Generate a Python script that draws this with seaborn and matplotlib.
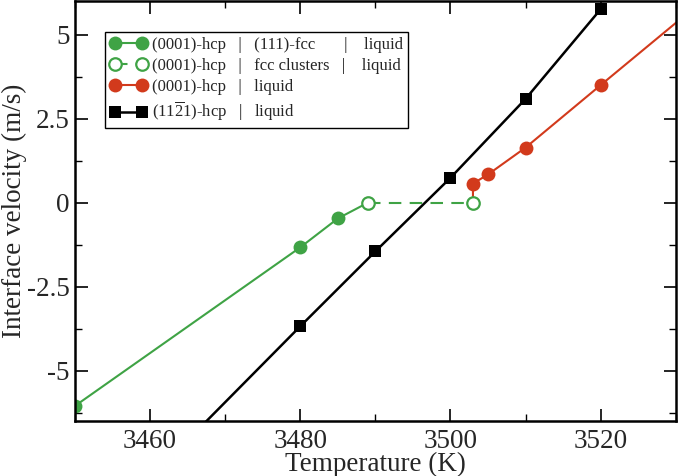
import numpy as np
import pandas as pd
import matplotlib
matplotlib.use("Agg")
import matplotlib.pyplot as plt
import seaborn as sns
from matplotlib.ticker import MultipleLocator

# (0001)-hcp | (111)-fcc | liquid
green_T = [3450, 3480, 3485, 3489]
green_v = [-6.05, -1.33, -0.47, 0.0]
# (0001)-hcp | fcc clusters | liquid
open_T = [3489, 3503]
open_v = [0.0, 0.0]
# (0001)-hcp | liquid
red_T = [3503, 3503, 3505, 3510, 3520, 3540]
red_v = [0.0, 0.57, 0.84, 1.64, 3.5, 7.2]
# (11-21)-hcp | liquid
black_T = [3460, 3480, 3490, 3500, 3510, 3520]
black_v = [-8.2, -3.68, -1.45, 0.74, 3.09, 5.76]

labels = [
    "(0001)-hcp   |   (111)-fcc       |    liquid",
    "(0001)-hcp   |   fcc clusters   |    liquid",
    "(0001)-hcp   |   liquid",
    r"(11$\overline{2}$1)-hcp   |   liquid",
]

GREEN = "#3fa345"
RED = "#d23a1c"

sns.set_theme(style="ticks")
plt.rcParams["font.family"] = ["Liberation Serif", "DejaVu Serif"]
plt.rcParams["mathtext.fontset"] = "custom"
plt.rcParams["mathtext.rm"] = "Liberation Serif"
plt.rcParams["mathtext.it"] = "Liberation Serif"
plt.rcParams["axes.unicode_minus"] = False

fig = plt.figure(figsize=(6.78, 4.76), dpi=100)
ax = fig.add_axes([0.1106, 0.1155, 0.886, 0.882])

sns.lineplot(x=green_T, y=green_v, ax=ax, color=GREEN, lw=1.5, marker="o",
             markersize=10, markeredgewidth=0, markevery=[0, 1, 2],
             estimator=None, sort=False, label=labels[0])
sns.lineplot(x=open_T, y=open_v, ax=ax, color=GREEN, lw=1.5, marker="o",
             markersize=9, markerfacecolor="white", markeredgecolor=GREEN,
             markeredgewidth=1.6, dashes=False, linestyle=(0, (6, 4)),
             estimator=None, sort=False, label=labels[1], zorder=3)
sns.lineplot(x=red_T, y=red_v, ax=ax, color=RED, lw=1.5, marker="o",
             markersize=10, markeredgewidth=0,
             markevery=list(range(1, len(red_T))),
             estimator=None, sort=False, label=labels[2], zorder=2)
sns.lineplot(x=black_T, y=black_v, ax=ax, color="black", lw=1.8, marker="s",
             markersize=8.5, markeredgewidth=0,
             estimator=None, sort=False, label=labels[3])

ax.set_xlim(3450, 3530)
ax.set_ylim(-6.5, 6.0)
ax.xaxis.set_major_locator(MultipleLocator(20))
ax.xaxis.set_minor_locator(MultipleLocator(10))
ax.yaxis.set_major_locator(MultipleLocator(2.5))
ax.yaxis.set_minor_locator(MultipleLocator(1.25))
ax.set_xticks([3460, 3480, 3500, 3520])
ax.set_yticks([-5, -2.5, 0, 2.5, 5])
ax.set_yticklabels(["-5", "-2.5", "0", "2.5", "5"])

ax.tick_params(which="both", direction="in", top=True, right=True,
               labelsize=19.5, color="black")
ax.tick_params(axis="x", pad=6)
ax.tick_params(axis="y", pad=4)
ax.tick_params(which="major", length=9, width=1.2)
ax.tick_params(which="minor", length=5, width=1.0)
for s in ax.spines.values():
    s.set_linewidth(1.8)
    s.set_color("black")

ax.set_xlabel("Temperature (K)", fontsize=19.5, labelpad=-2)
ax.set_ylabel("Interface velocity (m/s)", fontsize=19.5, labelpad=0)

leg = ax.legend(loc="upper left", bbox_to_anchor=(0.05, 0.926), fontsize=12,
                numpoints=2, handlelength=2.2, handletextpad=0.3,
                labelspacing=0.3, borderpad=0.3, borderaxespad=0,
                fancybox=False, framealpha=1, edgecolor="black")
leg.get_frame().set_linewidth(1.0)

fig.savefig("out.png", dpi=100)
